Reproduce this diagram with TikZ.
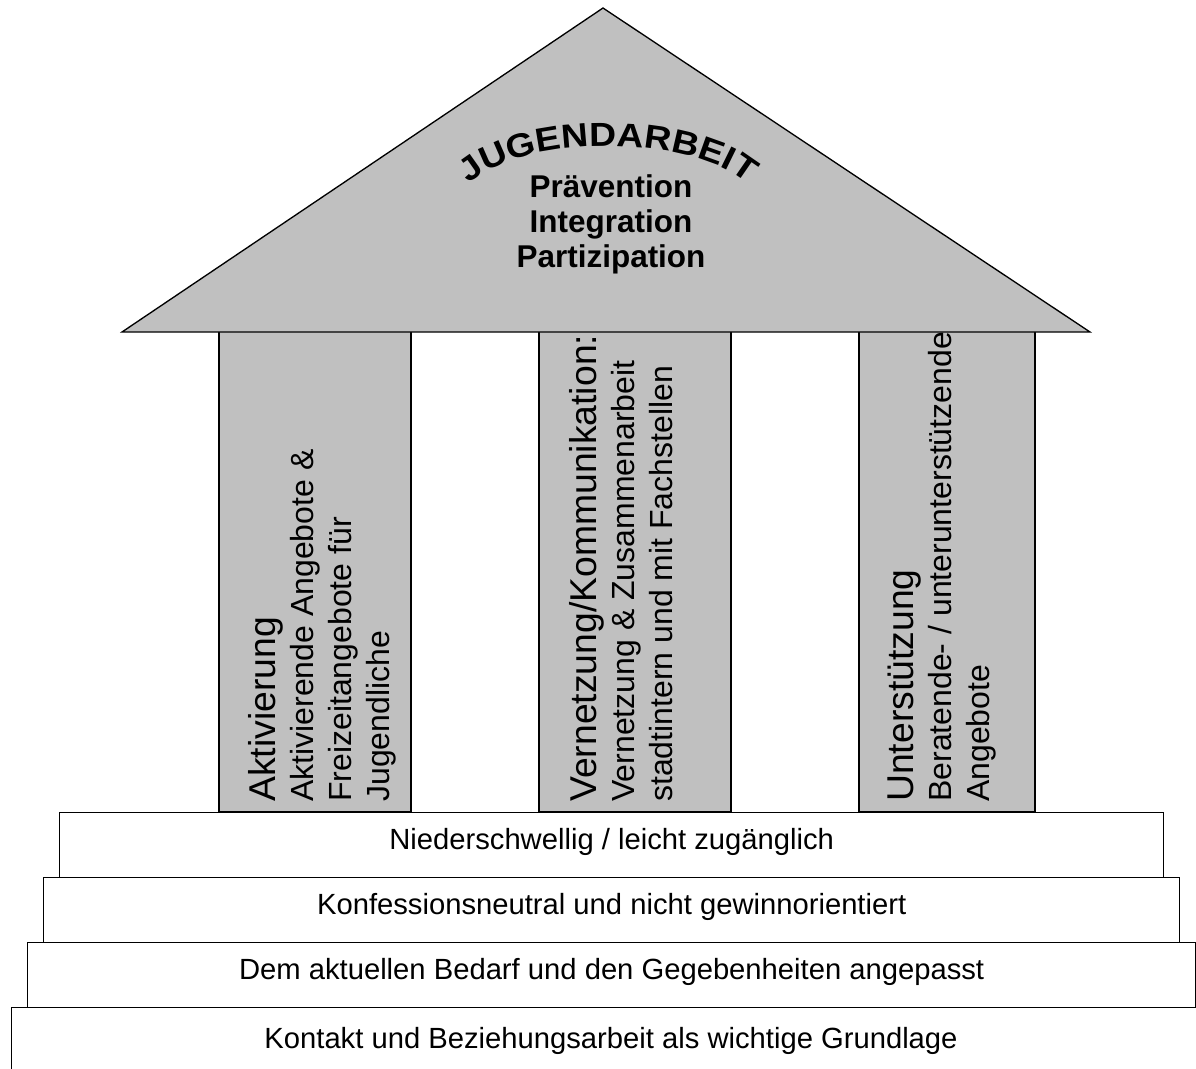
\documentclass[tikz,border=0pt]{standalone}
\usepackage{fontspec}
\setmainfont{Liberation Sans}
\newfontfamily\archfont[FakeStretch=1.12]{Liberation Sans Bold}
\usetikzlibrary{decorations.text}
\definecolor{roofgray}{RGB}{192,192,192}
\tikzset{
  pillarbox/.style={fill=roofgray,draw=black,line width=1pt},
  roofshape/.style={fill=roofgray,draw=black,line width=1pt},
  stepbox/.style={draw=black,fill=white,line width=1pt,rectangle,inner sep=0pt,
     minimum height=48.75pt,anchor=north west,
     text height=0.85em,text depth=0.25em,font=\fontsize{21.9}{26}\selectfont},
  pillartext/.style={rotate=90,anchor=north west,inner sep=0pt,align=left,
     font=\fontsize{24}{28.5}\selectfont},
  rooftext/.style={align=center,inner sep=0pt,font=\bfseries\fontsize{23.6}{26.2}\selectfont}
}
\newcommand{\ptitle}[1]{{\fontsize{28}{28.5}\selectfont #1}}
\begin{document}
\begin{tikzpicture}[x=0.75pt,y=-0.75pt]
\useasboundingbox (0,0) rectangle (1196,1068);
\clip (0,0) rectangle (1196,1068);
% pillars
\draw[pillarbox] (219,320) rectangle (411,812);
\draw[pillarbox] (539,320) rectangle (731,812);
\draw[pillarbox] (859,320) rectangle (1035,812);
\node[pillartext] (p1) at (248,802) {\ptitle{Aktivierung}\\Aktivierende Angebote \&\\Freizeitangebote für\\Jugendliche};
\node[pillartext] (p2) at (569,802) {\ptitle{Vernetzung/Kommunikation:}\\Vernetzung \& Zusammenarbeit\\stadtintern und mit Fachstellen};
\node[pillartext] (p3) at (888,802) {\ptitle{Unterstützung}\\Beratende- / unterunterstützende\\Angebote};
% roof
\coordinate (apex) at (603,8);
\coordinate (bl) at (122,332);
\coordinate (br) at (1090,332);
\draw[roofshape] (bl) -- (apex) -- (br) -- cycle;
\coordinate (arcL) at (466,186);
\coordinate (arcR) at (750,186);
\path[decorate,decoration={text along path,text align=center,text color=black,
   text={|\archfont\fontsize{25}{25}\selectfont|JUGENDARBEIT}}]
   (arcL) .. controls (518,133) and (698,133) .. (arcR);
\node[rooftext,anchor=base] (roofwords) at (611,267) {Prävention\\Integration\\Partizipation};
% steps
\node[stepbox,minimum width=828pt] (s1) at (59,812) {Niederschwellig / leicht zugänglich};
\node[stepbox,minimum width=852pt] (s2) at (43,877) {Konfessionsneutral und nicht gewinnorientiert};
\node[stepbox,minimum width=876pt] (s3) at (27,942) {Dem aktuellen Bedarf und den Gegebenheiten angepasst};
\node[stepbox,minimum width=898pt,minimum height=60pt] (s4) at (11,1007) {};
\node[anchor=base,inner sep=0pt,font=\fontsize{21.9}{26}\selectfont] (s4t) at (611,1048) {Kontakt und Beziehungsarbeit als wichtige Grundlage};
\end{tikzpicture}
\end{document}
